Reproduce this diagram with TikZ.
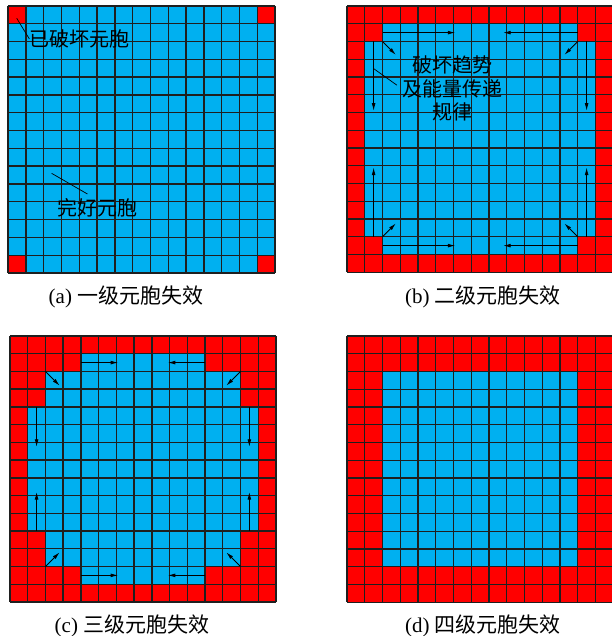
\documentclass[tikz,border=0pt]{standalone}
\usepackage{fontspec}
\setmainfont{Liberation Serif}
\newfontfamily\cjk{Noto Sans CJK SC}
\usetikzlibrary{arrows.meta}
\definecolor{cellblue}{RGB}{0,176,240}
\definecolor{cellred}{RGB}{255,0,0}
\tikzset{
  gridln/.style={line width=1.4pt, draw=black!88},
  flow/.style={line width=0.8pt, -{Latex[length=7.5pt,width=3.8pt]}},
  leader/.style={line width=0.7pt},
  lbl/.style={inner sep=0pt, font=\cjk\fontsize{20}{23.5}\selectfont},
  captext/.style={inner sep=0pt, font=\fontsize{21}{24}\selectfont},
}
\newcommand\flowarrow[3]{\coordinate (#1s) at #2; \coordinate (#1e) at #3; \draw[flow] (#1s) -- (#1e);}
\newcommand\cellgrid{\foreach \i in {0,...,15} {\draw[gridln] (\i,0) -- (\i,15); \draw[gridln] (0,\i) -- (15,\i);}}
\begin{document}
\begin{tikzpicture}[x=1pt,y=-1pt]
\useasboundingbox (0,0) rectangle (611,636);
\fill[white] (0,0) rectangle (611,636);

% ---------- panel (a)
\begin{scope}[shift={(8pt,-6pt)},x=17.8pt,y=-17.8pt]
  \fill[cellblue] (0,0) rectangle (15,15);
  \foreach \c/\r in {0/0,14/0,0/14,14/14} {\fill[cellred] (\c,\r) rectangle ++(1,1);}
  \cellgrid
  \node[lbl, anchor=west] (broken) at (1.2,1.85) {已破坏元胞};
  \coordinate (brokenp) at (0.49,0.69);
  \draw[leader] (brokenp) -- (broken.west);
  \node[lbl, anchor=west] (intact) at (2.75,11.35) {完好元胞};
  \coordinate (intactp) at (2.45,9.4);
  \coordinate (intactq) at (4.46,10.56);
  \draw[leader] (intactp) -- (intactq);
\end{scope}

% ---------- panel (b)
\begin{scope}[shift={(347pt,-6pt)},x=17.75pt,y=-17.75pt]
  \fill[cellred] (0,0) rectangle (15,15);
  \fill[cellblue] (2,1) rectangle (13,2);
  \fill[cellblue] (1,2) rectangle (14,13);
  \fill[cellblue] (2,13) rectangle (13,14);
  \cellgrid
  \flowarrow{b1}{(2,1.5)}{(6.1,1.5)}
  \flowarrow{b2}{(13,1.5)}{(8.8,1.5)}
  \flowarrow{b3}{(2,2)}{(2.75,2.75)}
  \flowarrow{b4}{(13,2)}{(12.25,2.75)}
  \flowarrow{b5}{(1.5,2)}{(1.5,5.9)}
  \flowarrow{b6}{(1.5,13)}{(1.5,9.1)}
  \flowarrow{b7}{(13.5,2)}{(13.5,5.9)}
  \flowarrow{b8}{(13.5,13)}{(13.5,9.1)}
  \flowarrow{b9}{(2,13.5)}{(6.1,13.5)}
  \flowarrow{b10}{(13,13.5)}{(8.8,13.5)}
  \flowarrow{b11}{(2,13)}{(2.75,12.25)}
  \flowarrow{b12}{(13,13)}{(12.25,12.25)}
  \node[lbl, align=center] (trend) at (5.93,4.66) {破坏趋势\\及能量传递\\规律};
  \coordinate (trendp) at (1.49,3.52);
  \coordinate (trendq) at (2.81,4.46);
  \draw[leader] (trendp) -- (trendq);
\end{scope}

% ---------- panel (c)
\begin{scope}[shift={(10pt,-336pt)},x=17.73pt,y=-17.73pt]
  \fill[cellred] (0,0) rectangle (15,15);
  \fill[cellblue] (4,1) rectangle (11,2);
  \fill[cellblue] (2,2) rectangle (13,4);
  \fill[cellblue] (1,4) rectangle (14,11);
  \fill[cellblue] (2,11) rectangle (13,13);
  \fill[cellblue] (4,13) rectangle (11,14);
  \cellgrid
  \flowarrow{c1}{(4,1.5)}{(6.1,1.5)}
  \flowarrow{c2}{(11,1.5)}{(8.9,1.5)}
  \flowarrow{c3}{(2,2)}{(2.8,2.8)}
  \flowarrow{c4}{(13,2)}{(12.2,2.8)}
  \flowarrow{c5}{(1.5,4)}{(1.5,6.25)}
  \flowarrow{c6}{(1.5,11)}{(1.5,8.8)}
  \flowarrow{c7}{(13.5,4)}{(13.5,6.25)}
  \flowarrow{c8}{(13.5,11)}{(13.5,8.8)}
  \flowarrow{c9}{(4,13.5)}{(6.1,13.5)}
  \flowarrow{c10}{(11,13.5)}{(8.9,13.5)}
  \flowarrow{c11}{(2,13)}{(2.8,12.2)}
  \flowarrow{c12}{(13,13)}{(12.2,12.2)}
\end{scope}

% ---------- panel (d)
\begin{scope}[shift={(347pt,-336pt)},x=17.75pt,y=-17.75pt]
  \fill[cellred] (0,0) rectangle (15,15);
  \fill[cellblue] (2,2) rectangle (13,13);
  \cellgrid
\end{scope}

% ---------- captions
\node[captext] (capa) at (126,297) {(a) {\cjk 一级元胞失效}};
\node[captext] (capb) at (483,297) {(b) {\cjk 二级元胞失效}};
\node[captext] (capc) at (132,626) {(c) {\cjk 三级元胞失效}};
\node[captext] (capd) at (483,626) {(d) {\cjk 四级元胞失效}};
\end{tikzpicture}
\end{document}
